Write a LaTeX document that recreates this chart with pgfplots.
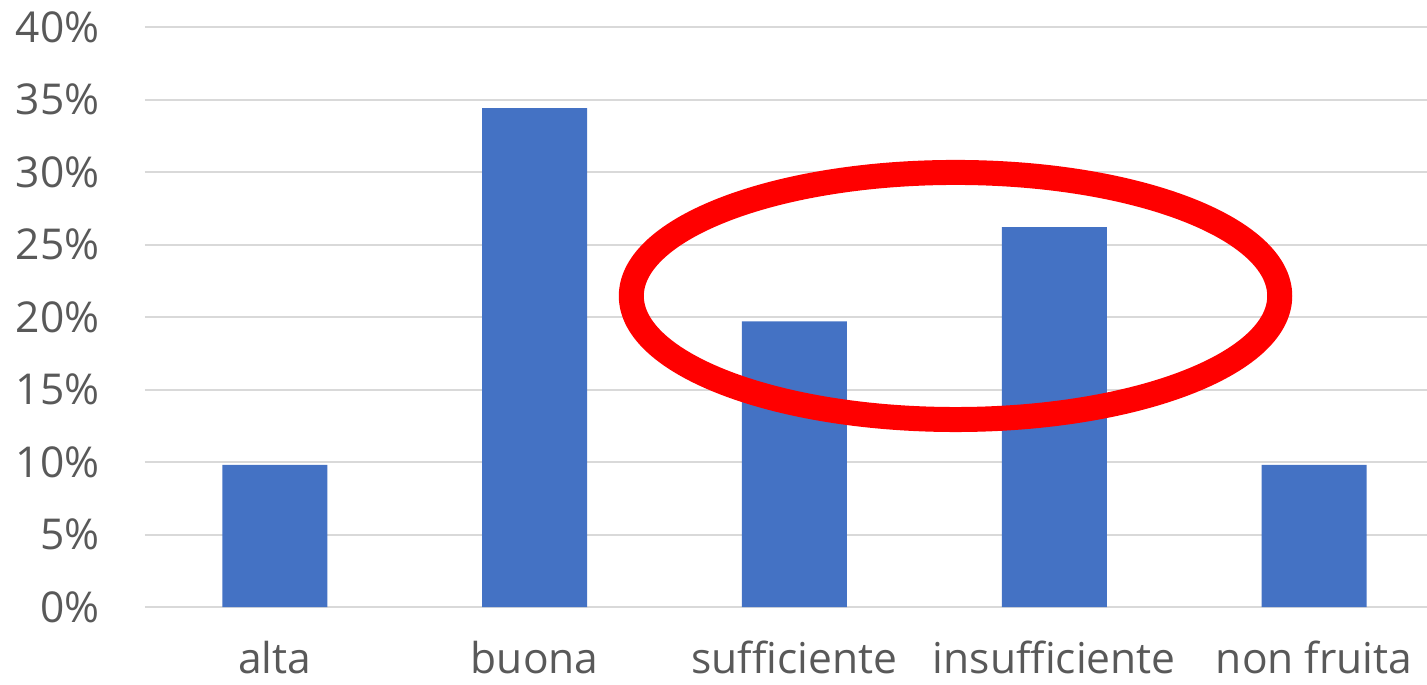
\documentclass[border=0pt]{standalone}
\usepackage{pgfplots}
\pgfplotsset{compat=1.18}
\usepackage{fontspec}
\setmainfont{Open Sans}[Ligatures=NoCommon]
\definecolor{barblue}{HTML}{4472C4}
\definecolor{ticktext}{HTML}{595959}
\definecolor{gridgray}{HTML}{D9D9D9}
\begin{document}
\begin{tikzpicture}[x=1cm,y=1cm]
\path[use as bounding box] (-1.45,-0.77) rectangle (12.82,6.07);
\begin{axis}[
    at={(0,0)}, anchor=south west,
    width=12.82cm, height=5.80cm, scale only axis,
    ymin=0, ymax=40,
    xmin=-0.5, xmax=4.435,
    ytick={0,5,...,40},
    yticklabels={0\%,5\%,10\%,15\%,20\%,25\%,30\%,35\%,40\%},
    xtick={0,1,2,3,4},
    xticklabels={alta,buona,sufficiente,insufficiente,non fruita},
    ticklabel style={font=\fontsize{12.1}{14}\selectfont, text=ticktext},
    yticklabel style={xshift=-0.33cm},
    xticklabel style={yshift=-0.22cm},
    major tick length=0pt,
    axis line style={draw=none},
    ymajorgrids,
    grid style={gridgray, line width=0.57pt},
    ybar, bar width=1.05cm,
    clip=false,
]
\addplot[fill=barblue, draw=none] coordinates {
    (0,9.8) (1,34.4) (2,19.7) (3,26.2) (4,9.8)
};
\draw[red, line width=0.25cm] (axis cs:2.62,21.45) ellipse [x radius=1.248, y radius=8.52];
\end{axis}
\end{tikzpicture}
\end{document}
